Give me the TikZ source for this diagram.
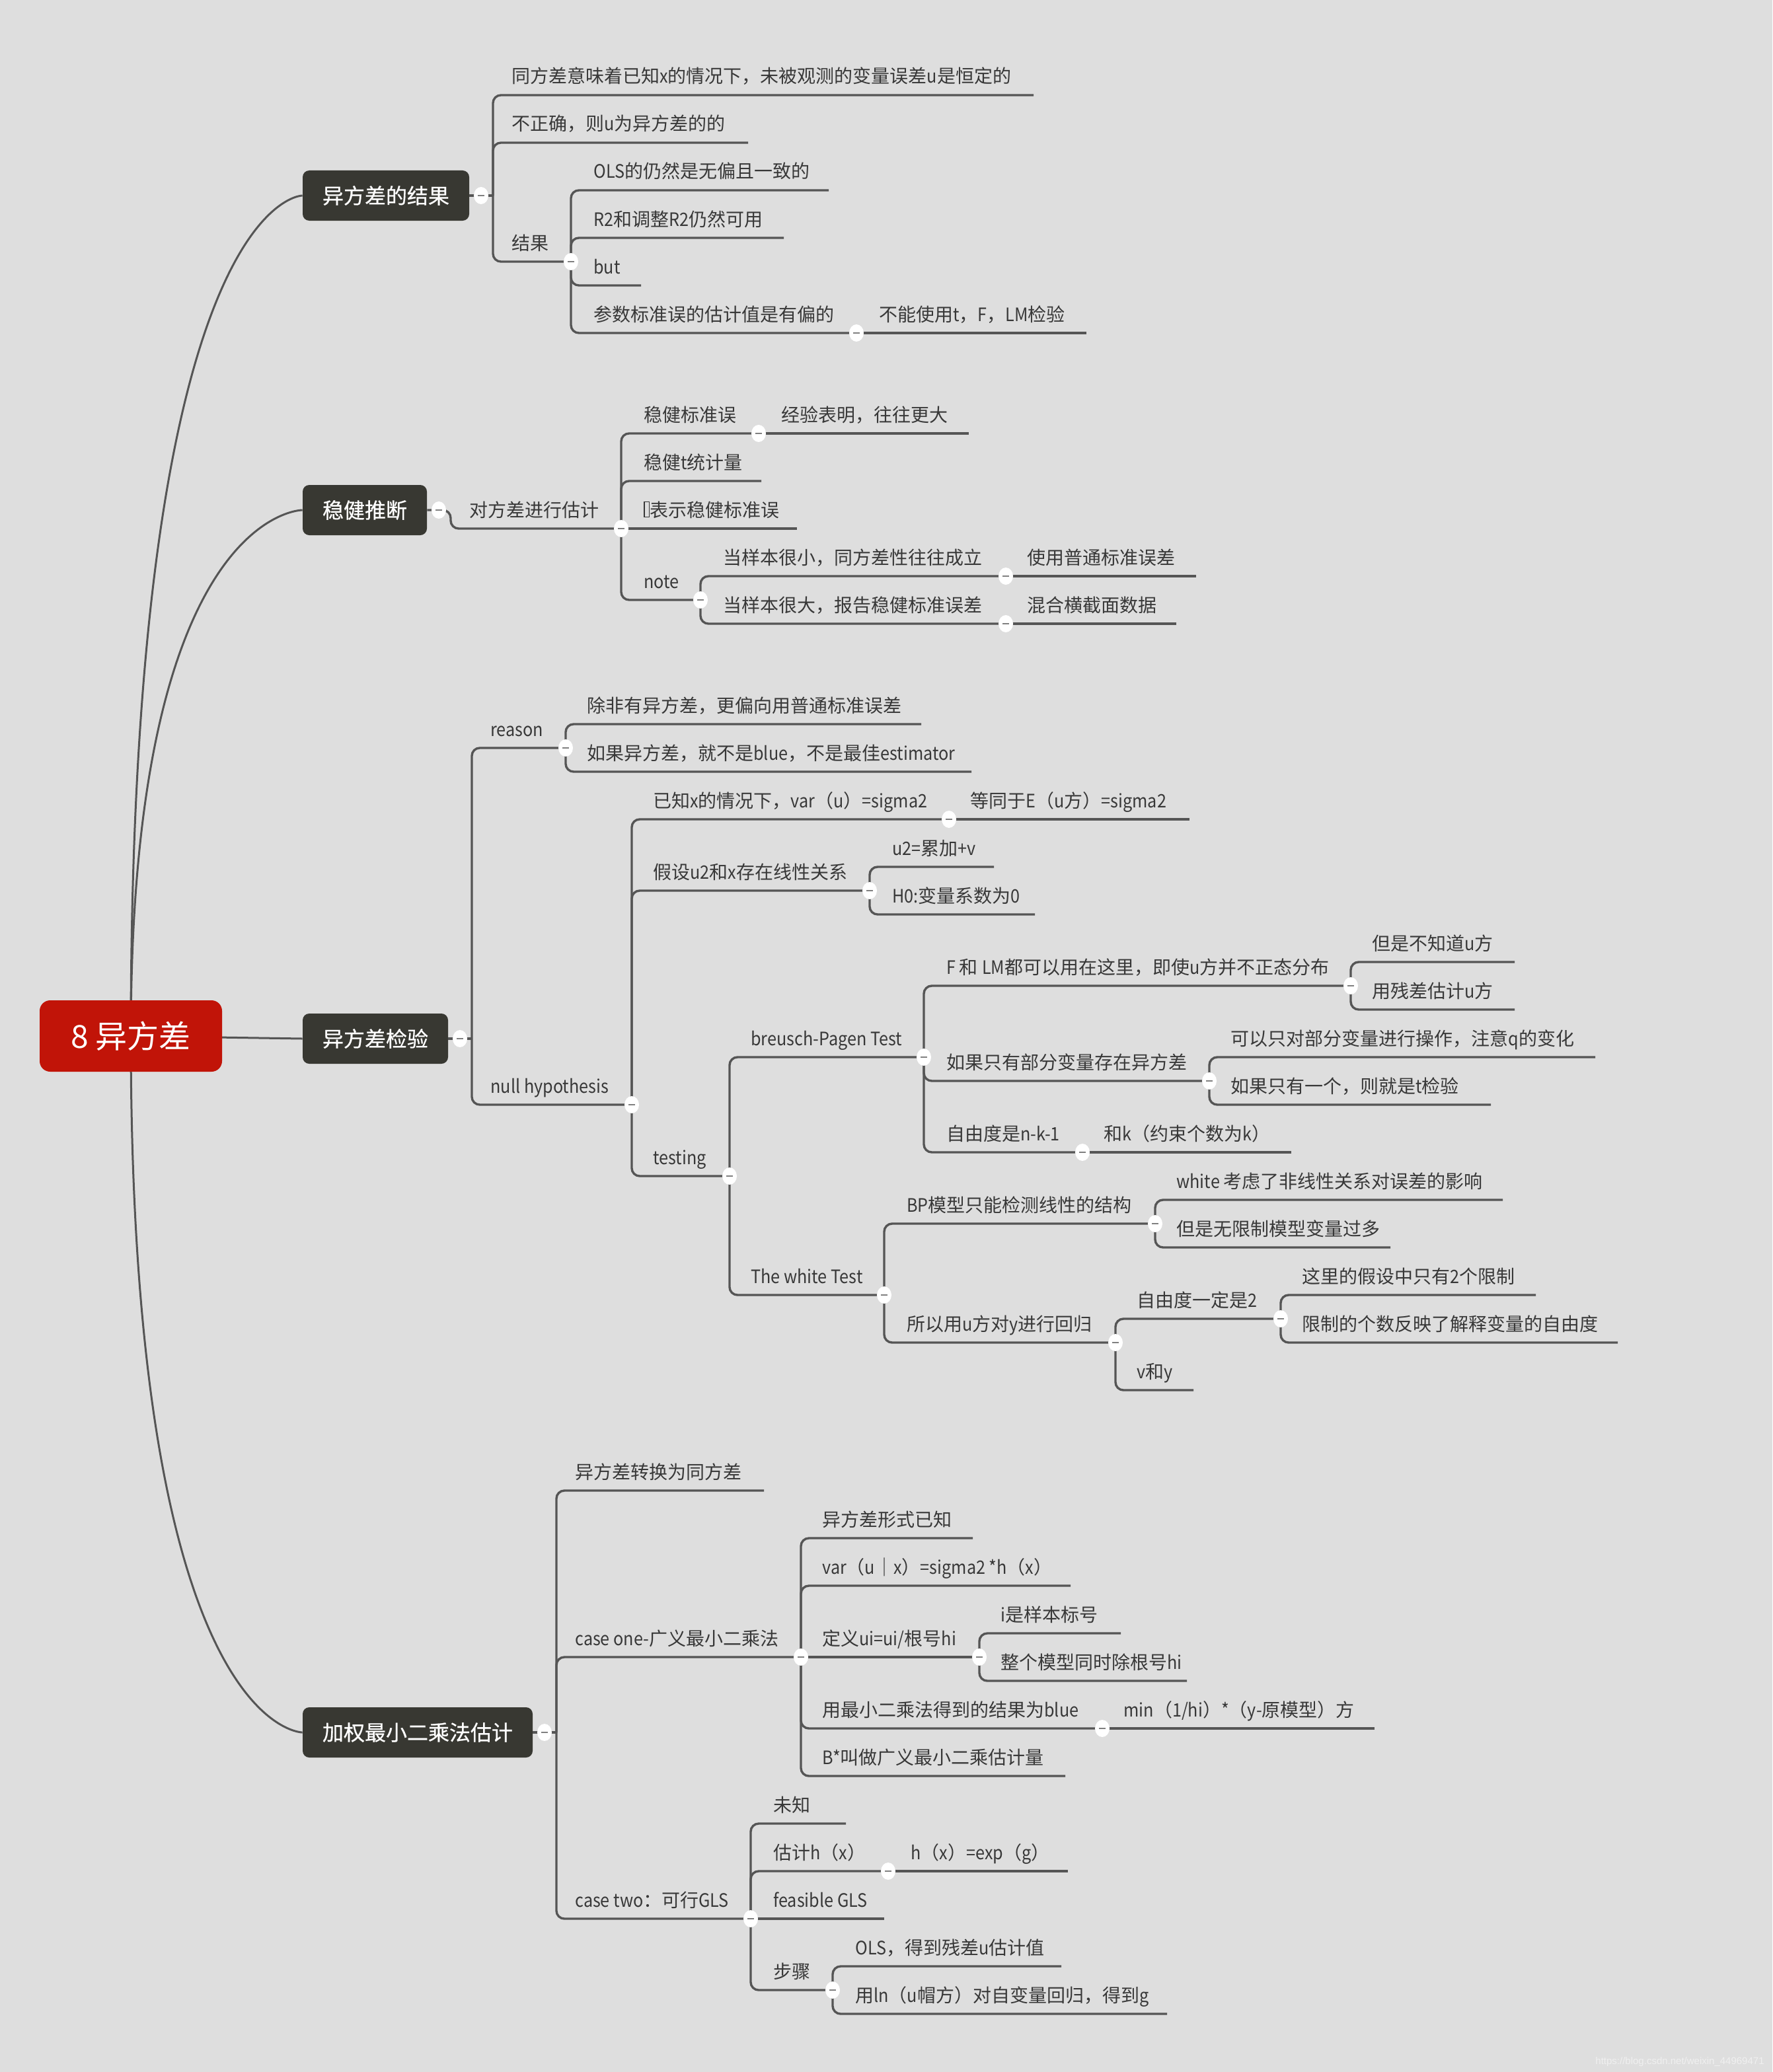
\documentclass[tikz,border=0pt]{standalone}
\usepackage{fontspec}
\setmainfont{Noto Sans CJK SC}
\newfontfamily\cjkf{Noto Sans CJK SC}
\newfontfamily\latf{Noto Sans CJK SC}[FakeStretch=0.9]
\newfontfamily\boxf{Noto Sans CJK SC}[FakeBold=0.6]
\newfontfamily\wmfont{Liberation Sans}
\newcount\cjkcc
\cjkcc="3000
\loop\XeTeXcharclass\cjkcc=1 \advance\cjkcc by 1 \ifnum\cjkcc<"3040 \repeat
\cjkcc="4E00
\loop\XeTeXcharclass\cjkcc=1 \advance\cjkcc by 1 \ifnum\cjkcc<"A000 \repeat
\cjkcc="FF00
\loop\XeTeXcharclass\cjkcc=1 \advance\cjkcc by 1 \ifnum\cjkcc<"FFF0 \repeat
\XeTeXinterchartoks 4095 0 = {\latf}
\XeTeXinterchartoks 1 0 = {\latf}
\XeTeXinterchartoks 2 0 = {\latf}
\XeTeXinterchartoks 3 0 = {\latf}
\XeTeXinterchartoks 4095 1 = {\cjkf}
\XeTeXinterchartoks 4095 2 = {\cjkf}
\XeTeXinterchartoks 4095 3 = {\cjkf}
\XeTeXinterchartoks 0 1 = {\cjkf}
\XeTeXinterchartoks 0 2 = {\cjkf}
\XeTeXinterchartoks 0 3 = {\cjkf}
\newcommand\lblfont{\fontsize{14}{14}\selectfont\XeTeXinterchartokenstate=1\relax}
\usetikzlibrary{shapes.geometric}
\definecolor{bgc}{HTML}{DEDEDE}
\definecolor{lnc}{HTML}{555555}
\definecolor{txtc}{HTML}{383838}
\definecolor{boxc}{HTML}{383832}
\definecolor{rootc}{HTML}{C11408}
\definecolor{wmc}{HTML}{F0F0F0}
\pgfdeclarelayer{back}
\pgfsetlayers{back,main}
\newcommand\kid[6]{%
  \draw[branch] (#2) |- (#5,#3) coordinate (#1-e);
  \node[lbl] (#1) at (#4,#3-9) {#6};}
\newcommand\kidS[6]{%
  \draw[branch] (#2) -- (#5,#3) coordinate (#1-e);
  \node[lbl] (#1) at (#4,#3-9) {#6};}
\newcommand\mk[1]{\node[marker] (#1-m) at (#1) {};}
\newcommand\tofu{{\setlength\fboxsep{0pt}\setlength\fboxrule{0.6pt}\fbox{\rule{0pt}{11pt}\hspace{3pt}}}\kern0.5pt}
\begin{document}
\begin{tikzpicture}[x=1pt,y=-1pt,
  branch/.style={draw=lnc,line width=1.7pt,rounded corners=6pt},
  trunk/.style={draw=lnc,line width=1.5pt},
  lbl/.style={anchor=base west,inner sep=0pt,text=txtc,font=\lblfont},
  mainbox/.style={fill=boxc,rounded corners=5pt,text=white,font=\boxf\fontsize{16}{16}\selectfont,minimum height=38pt,inner sep=0pt},
  rootbox/.style={fill=rootc,rounded corners=8pt,text=white,font=\fontsize{24}{24}\selectfont,minimum width=138pt,minimum height=54pt,inner sep=0pt},
  marker/.style={ellipse,fill=white,minimum width=11pt,minimum height=13pt,inner sep=0pt,
    path picture={\draw[line width=1.3pt,draw=gray] ([xshift=-2.5pt]path picture bounding box.center) -- ([xshift=2.5pt]path picture bounding box.center);}},
]
\useasboundingbox (0,0) rectangle (1341,1568);

% root and main boxes
\node[rootbox] (root) at (99,784) {8 异方差};
\node[mainbox,minimum width=126pt] (b1) at (292,148) {异方差的结果};
\node[mainbox,minimum width=94pt] (b2) at (276,386) {稳健推断};
\node[mainbox,minimum width=110pt] (b3) at (284,786) {异方差检验};
\node[mainbox,minimum width=174pt] (b4) at (316,1311) {加权最小二乘法估计};

\begin{pgfonlayer}{back}
\fill[bgc] (0,0) rectangle (1341,1568);
\draw[trunk] (root.center) .. controls (99,148) and (b1.west) .. (b1.west);
\draw[trunk] (root.center) .. controls (99,386) and (b2.west) .. (b2.west);
\draw[trunk] (root.center) -- (b3.west);
\draw[trunk] (root.center) .. controls (99,1311) and (b4.west) .. (b4.west);
\end{pgfonlayer}

% ---------- branch 1
\coordinate (s1) at (373,148);
\draw[branch] (b1.east) -- (s1);
\kid{a1}{s1}{72}{387}{782}{同方差意味着已知x的情况下，未被观测的变量误差u是恒定的}
\kid{a2}{s1}{108}{387}{566}{不正确，则u为异方差的的}
\kid{a3}{s1}{198}{387}{432}{结果}
\kid{a31}{a3-e}{144}{449}{627}{OLS的仍然是无偏且一致的}
\kid{a32}{a3-e}{180}{449}{593}{R2和调整R2仍然可用}
\kid{a33}{a3-e}{216}{449}{485}{but}
\kid{a34}{a3-e}{252}{449}{648}{参数标准误的估计值是有偏的}
\kidS{a341}{a34-e}{252}{665}{822}{不能使用t，F，LM检验}
\node[marker] (b1-m) at (364,148) {};
\mk{a3-e}\mk{a34-e}

% ---------- branch 2
\draw[branch] (b2.east) -- (341,386) |- (470,400) coordinate (c1-e);
\node[lbl] (c1) at (355,391) {对方差进行估计};
\kid{c11}{c1-e}{328}{487}{574}{稳健标准误}
\kidS{c111}{c11-e}{328}{591}{733}{经验表明，往往更大}
\kid{c12}{c1-e}{364}{487}{576}{稳健t统计量}
\kidS{c13}{c1-e}{400}{487}{603}{\tofu 表示稳健标准误}
\kid{c14}{c1-e}{454}{487}{530}{note}
\kid{c141}{c14-e}{436}{547}{761}{当样本很小，同方差性往往成立}
\kidS{c1411}{c141-e}{436}{777}{905}{使用普通标准误差}
\kid{c142}{c14-e}{472}{547}{761}{当样本很大，报告稳健标准误差}
\kidS{c1421}{c142-e}{472}{777}{890}{混合横截面数据}
\node[marker] (b2-m) at (332,386) {};
\mk{c1-e}\mk{c11-e}\mk{c14-e}\mk{c141-e}\mk{c142-e}

% ---------- branch 3
\coordinate (s3) at (357,786);
\draw[branch] (b3.east) -- (s3);
\kid{d1}{s3}{566}{371}{428}{reason}
\kid{d11}{d1-e}{548}{444}{697}{除非有异方差，更偏向用普通标准误差}
\kid{d12}{d1-e}{584}{444}{735}{如果异方差，就不是blue，不是最佳estimator}
\kid{d2}{s3}{836}{371}{478}{null hypothesis}
\kid{d21}{d2-e}{620}{494}{718}{已知x的情况下，var（u）=sigma2}
\kidS{d211}{d21-e}{620}{734}{900}{等同于E（u方）=sigma2}
\kid{d22}{d2-e}{674}{494}{658}{假设u2和x存在线性关系}
\kid{d221}{d22-e}{656}{675}{752}{u2=累加+v}
\kid{d222}{d22-e}{692}{675}{783}{H0:变量系数为0}
\kid{d23}{d2-e}{890}{494}{552}{testing}
\kid{d231}{d23-e}{800}{568}{699}{breusch-Pagen Test}
\kid{d2311}{d231-e}{746}{716}{1022}{F 和 LM都可以用在这里，即使u方并不正态分布}
\kid{d23111}{d2311-e}{728}{1038}{1146}{但是不知道u方}
\kid{d23112}{d2311-e}{764}{1038}{1146}{用残差估计u方}
\kid{d2312}{d231-e}{818}{716}{915}{如果只有部分变量存在异方差}
\kid{d23121}{d2312-e}{800}{931}{1207}{可以只对部分变量进行操作，注意q的变化}
\kid{d23122}{d2312-e}{836}{931}{1128}{如果只有一个，则就是t检验}
\kid{d2313}{d231-e}{872}{716}{819}{自由度是n-k-1}
\kidS{d23131}{d2313-e}{872}{835}{977}{和k（约束个数为k）}
\kid{d232}{d23-e}{980}{568}{669}{The white Test}
\kid{d2321}{d232-e}{926}{686}{874}{BP模型只能检测线性的结构}
\kid{d23211}{d2321-e}{908}{890}{1137}{white 考虑了非线性关系对误差的影响}
\kid{d23212}{d2321-e}{944}{890}{1052}{但是无限制模型变量过多}
\kid{d2322}{d232-e}{1016}{686}{844}{所以用u方对y进行回归}
\kid{d23221}{d2322-e}{998}{860}{969}{自由度一定是2}
\kid{d232211}{d23221-e}{980}{985}{1162}{这里的假设中只有2个限制}
\kid{d232212}{d23221-e}{1016}{985}{1224}{限制的个数反映了解释变量的自由度}
\kid{d23222}{d2322-e}{1052}{860}{903}{v和y}
\node[marker] (b3-m) at (348,786) {};
\mk{d1-e}\mk{d2-e}\mk{d21-e}\mk{d22-e}\mk{d23-e}\mk{d231-e}\mk{d2311-e}\mk{d2312-e}\mk{d2313-e}
\mk{d232-e}\mk{d2321-e}\mk{d2322-e}\mk{d23221-e}

% ---------- branch 4
\coordinate (s4) at (421,1311);
\draw[branch] (b4.east) -- (s4);
\kid{e1}{s4}{1128}{435}{578}{异方差转换为同方差}
\kid{e2}{s4}{1254}{435}{606}{case one-广义最小二乘法}
\kid{e21}{e2-e}{1164}{622}{736}{异方差形式已知}
\kid{e22}{e2-e}{1200}{622}{810}{var（u｜x）=sigma2 *h（x）}
\kidS{e23}{e2-e}{1254}{622}{741}{定义ui=ui/根号hi}
\kid{e231}{e23-e}{1236}{757}{848}{i是样本标号}
\kid{e232}{e23-e}{1272}{757}{898}{整个模型同时除根号hi}
\kid{e24}{e2-e}{1308}{622}{834}{用最小二乘法得到的结果为blue}
\kidS{e241}{e24-e}{1308}{850}{1040}{min（1/hi）*（y-原模型）方}
\kid{e25}{e2-e}{1344}{622}{806}{B*叫做广义最小二乘估计量}
\kid{e3}{s4}{1452}{435}{568}{case two：可行GLS}
\kid{e31}{e3-e}{1380}{585}{640}{未知}
\kid{e32}{e3-e}{1416}{585}{672}{估计h（x）}
\kidS{e321}{e32-e}{1416}{689}{808}{h（x）=exp（g）}
\kidS{e33}{e3-e}{1452}{585}{669}{feasible GLS}
\kid{e34}{e3-e}{1506}{585}{630}{步骤}
\kid{e341}{e34-e}{1488}{647}{803}{OLS，得到残差u估计值}
\kid{e342}{e34-e}{1524}{647}{883}{用ln（u帽方）对自变量回归，得到g}
\node[marker] (b4-m) at (412,1311) {};
\mk{e2-e}\mk{e23-e}\mk{e24-e}\mk{e3-e}\mk{e32-e}\mk{e34-e}

% watermark
\node[anchor=base east,inner sep=0pt,text=wmc,font=\wmfont\fontsize{7.5}{8}\selectfont] (wm) at (1335,1562) {https://blog.csdn.net/weixin\_44969471};
\end{tikzpicture}
\end{document}
